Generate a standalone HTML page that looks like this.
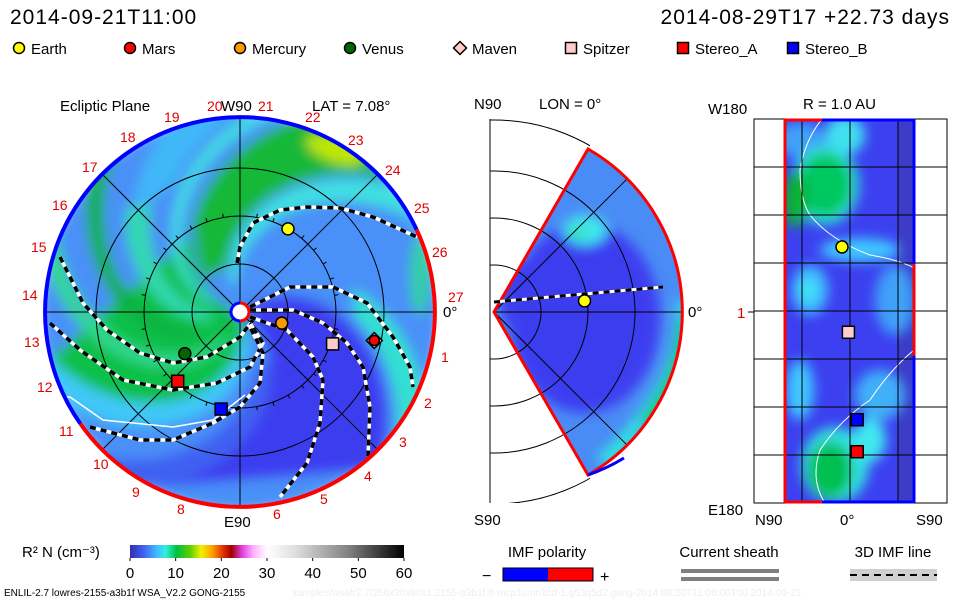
<!DOCTYPE html>
<html><head><meta charset="utf-8"><style>
html,body{margin:0;padding:0;background:#fff;}
svg{display:block;font-family:"Liberation Sans",sans-serif;}
</style></head><body>
<svg id="root" width="960" height="600" viewBox="0 0 960 600" xmlns="http://www.w3.org/2000/svg">
<defs>
<filter id="blur6" x="-20%" y="-20%" width="140%" height="140%"><feGaussianBlur stdDeviation="6"/></filter>
<clipPath id="diskClip"><circle cx="240" cy="312" r="195"/></clipPath>
<clipPath id="wedgeClip"><path d="M494,312 L588,149 A188,188 0 0 1 588,475 Z"/></clipPath>
<clipPath id="outsideWedge"><path d="M494,312 L725,-88 L490,-88 L490,312 Z M494,312 L725,712 L490,712 L490,312 Z"/></clipPath>
<clipPath id="midBox"><rect x="490" y="119" width="200" height="384"/></clipPath>
<clipPath id="rightClip"><rect x="785" y="119" width="129" height="384"/></clipPath>
<linearGradient id="cbar" x1="0" x2="1" y1="0" y2="0">
<stop offset="0" stop-color="#3030b0"/><stop offset="0.05" stop-color="#4060f0"/><stop offset="0.1" stop-color="#40c0ff"/><stop offset="0.13" stop-color="#30f0e0"/><stop offset="0.17" stop-color="#00c040"/><stop offset="0.22" stop-color="#60d000"/><stop offset="0.26" stop-color="#f0f000"/><stop offset="0.3" stop-color="#ffa000"/><stop offset="0.34" stop-color="#e03000"/><stop offset="0.37" stop-color="#a00000"/><stop offset="0.41" stop-color="#e040e0"/><stop offset="0.45" stop-color="#ffb0ff"/><stop offset="0.5" stop-color="#ffffff"/><stop offset="0.6" stop-color="#e0e0e0"/><stop offset="0.8" stop-color="#808080"/><stop offset="1" stop-color="#000"/>
</linearGradient>
</defs>

<text x="10" y="24" font-size="21" fill="#000" letter-spacing="1">2014-09-21T11:00</text>
<text x="950" y="24" font-size="21" fill="#000" text-anchor="end" letter-spacing="1">2014-08-29T17 +22.73 days</text>
<g id="legend"></g>

<g id="ecl">
<g clip-path="url(#diskClip)"><g id="eclBands" filter="url(#blur6)"></g></g>
<g id="eclGrid" fill="none" stroke="#000" stroke-width="1"></g>
<g id="eclLines"></g>
<g id="eclRing"></g>
<g id="eclBodies"></g>
<g id="eclLabels" font-size="14" fill="#e00000"></g>
<text x="60" y="111" font-size="15">Ecliptic Plane</text>
<text x="312" y="111" font-size="15">LAT = 7.08°</text>
<text x="221" y="111" font-size="15">W90</text>
<text x="224" y="527" font-size="15">E90</text>
<text x="443" y="317" font-size="15">0°</text>
</g>

<g id="mer">
<g clip-path="url(#midBox)"><g fill="none" stroke="#000" stroke-width="1" clip-path="url(#outsideWedge)" id="merGrid"></g></g>
<g clip-path="url(#wedgeClip)">
<rect x="490" y="119" width="200" height="384" fill="#4a8cf5"/>
<g filter="url(#blur6)">
<ellipse cx="585" cy="318" rx="75" ry="95" fill="#3c3ef0"/>
<ellipse cx="530" cy="300" rx="30" ry="40" fill="#3c3ef0"/>
<ellipse cx="585" cy="230" rx="22" ry="15" fill="#40e8f0"/>
<ellipse cx="578" cy="232" rx="9" ry="7" fill="#30e0b0"/>
<path d="M676,300 Q680,360 640,410 Q610,450 595,455 L610,470 Q660,430 690,300 Z" fill="#30e0e0"/>
<path d="M680,320 Q675,380 640,420 L660,430 Q690,380 690,320 Z" fill="#10c870"/>
<ellipse cx="640" cy="180" rx="30" ry="25" fill="#4a8cf5"/>
</g>
<g fill="none" stroke="#000" stroke-width="1" id="merGrid2"></g>
</g>
<line x1="490" y1="119" x2="490" y2="503" stroke="#000"/>
<path d="M494,312 L588,149 A188,188 0 0 1 588,475 Z" fill="none" stroke="#f00" stroke-width="3"/>
<path d="M588,475 A188,188 0 0 0 624,458" fill="none" stroke="#00f" stroke-width="3"/>
<g id="merLine"></g>
<g id="merBodies"></g>
<text x="474" y="109" font-size="15">N90</text>
<text x="539" y="109" font-size="15">LON = 0°</text>
<text x="474" y="525" font-size="15">S90</text>
<text x="688" y="317" font-size="15">0°</text>
</g>

<g id="rp">
<g clip-path="url(#rightClip)">
<rect x="785" y="119" width="129" height="384" fill="#3c40f0"/>
<rect x="898" y="119" width="16" height="384" fill="#3c3cc8"/>
<g filter="url(#blur6)">
<ellipse cx="800" cy="140" rx="25" ry="18" fill="#40a0f8"/>
<ellipse cx="845" cy="135" rx="20" ry="20" fill="#40e0f0"/>
<ellipse cx="825" cy="185" rx="34" ry="40" fill="#30e0e0"/>
<ellipse cx="825" cy="185" rx="27" ry="32" fill="#00c860"/>
<ellipse cx="795" cy="200" rx="12" ry="28" fill="#10b030"/>
<ellipse cx="860" cy="250" rx="40" ry="12" fill="#40c8ff"/>
<ellipse cx="810" cy="290" rx="18" ry="25" fill="#40c0ff"/>
<ellipse cx="808" cy="290" rx="8" ry="10" fill="#40e8f0"/>
<ellipse cx="895" cy="300" rx="20" ry="35" fill="#40a0f8"/>
<ellipse cx="800" cy="390" rx="14" ry="30" fill="#40c8ff"/>
<ellipse cx="880" cy="395" rx="25" ry="25" fill="#40b0f8"/>
<ellipse cx="835" cy="465" rx="34" ry="38" fill="#30e0e0"/>
<ellipse cx="830" cy="470" rx="22" ry="28" fill="#00c050"/>
<ellipse cx="870" cy="440" rx="16" ry="22" fill="#40e8f0"/>
</g>
<path d="M822,119 Q805,140 800,170 Q800,200 810,215 Q830,240 870,255 Q900,260 914,268" fill="none" stroke="#fff" stroke-width="1"/>
<path d="M914,350 Q890,370 870,400 Q840,420 820,450 Q810,480 825,503" fill="none" stroke="#fff" stroke-width="1"/>
</g>
<g id="rpGrid" stroke="#000" stroke-width="1"></g>
<rect x="754" y="119" width="193" height="384" fill="none" stroke="#000"/>
<g stroke-width="3" fill="none">
<line x1="785" y1="119" x2="785" y2="503" stroke="#f00"/>
<line x1="785" y1="120" x2="822" y2="120" stroke="#f00"/>
<line x1="822" y1="120" x2="914" y2="120" stroke="#00f"/>
<line x1="785" y1="502" x2="822" y2="502" stroke="#f00"/>
<line x1="822" y1="502" x2="914" y2="502" stroke="#00f"/>
<line x1="914" y1="119" x2="914" y2="264" stroke="#00f"/>
<line x1="914" y1="264" x2="914" y2="356" stroke="#f00"/>
<line x1="914" y1="356" x2="914" y2="503" stroke="#00f"/>
</g>
<g id="rpBodies"></g>
<text x="708" y="114" font-size="15">W180</text>
<text x="803" y="109" font-size="15">R = 1.0 AU</text>
<text x="737" y="318" font-size="15" fill="#e00000">1</text>
<text x="708" y="515" font-size="15">E180</text>
<text x="755" y="525" font-size="15">N90</text>
<text x="840" y="525" font-size="15">0°</text>
<text x="916" y="525" font-size="15">S90</text>
</g>

<g>
<text x="22" y="557" font-size="15">R² N (cm⁻³)</text>
<rect x="130" y="545" width="274" height="13" fill="url(#cbar)"/>
<g id="cbTicks" font-size="15" text-anchor="middle"></g>
</g>
<g>
<text x="547" y="557" font-size="15" text-anchor="middle">IMF polarity</text>
<text x="482" y="581" font-size="16">−</text>
<rect x="503" y="568" width="45" height="13" fill="#00f"/>
<rect x="548" y="568" width="45" height="13" fill="#f00"/>
<rect x="503" y="568" width="90" height="13" fill="none" stroke="#000"/>
<text x="600" y="582" font-size="16">+</text>
</g>
<g>
<text x="729" y="557" font-size="15" text-anchor="middle">Current sheath</text>
<rect x="681" y="569" width="98" height="4" fill="#808080"/>
<rect x="681" y="577" width="98" height="4" fill="#808080"/>
</g>
<g>
<text x="893" y="557" font-size="15" text-anchor="middle">3D IMF line</text>
<rect x="850" y="569" width="87" height="12" fill="#d0d0d0"/>
<line x1="850" y1="575" x2="937" y2="575" stroke="#000" stroke-width="2" stroke-dasharray="7,5"/>
</g>
<text x="4" y="596" font-size="10">ENLIL-2.7 lowres-2155-a3b1f WSA_V2.2 GONG-2155</text>
<text x="292" y="596" font-size="10" fill="#eeeeee">xamples/wsafr2.7/256x30x90x1.2155-a3b1f.8-mcp1umn1cd-1.g53q5d2.gong-2014:08:20T11:06:00T00   2014-09-21</text>
</svg>
<script>
// ---- data ----
const bodyNames = ["Earth","Mercury","Venus","Mars","Maven","Spitzer","Stereo_A","Stereo_B"];
const bodyRadiusAU = [1.0,0.45,0.72,1.43,1.43,1.02,0.97,1.03];
const bodyLonDeg = [60,-15,217,-12,-12,-19,228,259];
const bodyColors = ["#ffff00","#ff9900","#006600","#ff0000","#ffcccc","#ffcccc","#ff0000","#0000ff"];
const bodyShapes = ["circle","circle","circle","circle","diamond","square","square","square"];
const legendNames = ["Earth","Mars","Mercury","Venus","Maven","Spitzer","Stereo_A","Stereo_B"];
const legendColors = ["#ffff00","#ff0000","#ff9900","#006600","#ffcccc","#ffcccc","#ff0000","#0000ff"];
const legendShapes = ["circle","circle","circle","circle","diamond","square","square","square"];
const cbTickLabels = ["0","10","20","30","40","50","60"];
const cbTickValues = [0,10,20,30,40,50,60];
const rpBodyNames = ["Earth","Spitzer","Stereo_B","Stereo_A"];
const rpLat = [5,1,-4.5,-4.5];
const rpLon = [61,-19,-101,-131];
const merEarthR = [0.95];
const merEarthLat = [7];

const NS="http://www.w3.org/2000/svg";
function mk(tag, attrs, parent){const e=document.createElementNS(NS,tag);for(const k in attrs)e.setAttribute(k,attrs[k]);parent.appendChild(e);return e;}
const CX=240,CY=312,S=96;
function px(r,deg){const a=deg*Math.PI/180;return [CX+r*S*Math.cos(a),CY-r*S*Math.sin(a)];}

function marker(shape,x,y,color,parent,size){
  size=size||6;let e;
  if(shape==="circle") e=mk("circle",{cx:x,cy:y,r:size,fill:color,stroke:"#000","stroke-width":1.5},parent);
  else if(shape==="square") e=mk("rect",{x:x-size,y:y-size,width:2*size,height:2*size,fill:color,stroke:"#000","stroke-width":1.5},parent);
  else e=mk("polygon",{points:`${x},${y-size-1} ${x+size+1},${y} ${x},${y+size+1} ${x-size-1},${y}`,fill:color,stroke:"#000","stroke-width":1.5},parent);
  return e;
}

const lg=document.getElementById("legend");
const legendX=[19,130,240,350,460,571,683,793];
legendNames.forEach((n,i)=>{
  const g=mk("g",{},lg);
  
  
  marker(legendShapes[i],legendX[i],48,legendColors[i],g,5.5);
  const t=mk("text",{x:legendX[i]+12,y:54,"font-size":15},g);t.textContent=n;
});

const bands=document.getElementById("eclBands");
mk("circle",{cx:CX,cy:CY,r:200,fill:"#4a90f8"},bands);
function band(p1a,p1b,k,r0,r1,color){
  const pts=[];
  for(let r=r0;r<=r1+1e-6;r+=0.05){pts.push(px(r,p1a+k*(1-r)));}
  for(let r=r1;r>=r0-1e-6;r-=0.05){pts.push(px(r,p1b+k*(1-r)));}
  mk("polygon",{points:pts.map(p=>p.join(",")).join(" "),fill:color},bands);
}
band(120,250,45,0.1,2.2,"#10c048");
band(150,165,45,0.3,1.6,"#30d8b0");
band(128,135,45,0.3,2.2,"#40e0e0");
band(178,188,45,0.5,2.2,"#08b040");
band(205,215,45,0.3,2.2,"#30d890");
band(140,160,45,1.5,2.2,"#40b8f8");
band(240,255,45,0.2,2.2,"#40c8f8");
band(85,117,40,0.5,2.2,"#18b838");
band(70,82,40,0.3,2.2,"#40e0e0");
band(-75,0,40,0.1,2.2,"#3c3ef0");
band(5,20,40,1.2,2.2,"#30e0d0");
band(-90,-75,40,0.6,2.2,"#3f60f2");
mk("ellipse",{cx:335,cy:150,rx:30,ry:12,fill:"#c0e800",transform:"rotate(20 335 150)"},bands);
mk("ellipse",{cx:420,cy:275,rx:10,ry:40,fill:"#30d0a0"},bands);

const eg=document.getElementById("eclGrid");
[0.5,1,1.5].forEach(r=>mk("circle",{cx:CX,cy:CY,r:r*S},eg));
[0,45,90,135].forEach(a=>{const p=px(2.03,a),q=px(2.03,a+180);mk("line",{x1:p[0],y1:p[1],x2:q[0],y2:q[1]},eg);});
for(let a=0;a<360;a+=10){const p=px(1,a),q=px(1.04,a);mk("line",{x1:p[0],y1:p[1],x2:q[0],y2:q[1]},eg);}

const el=document.getElementById("eclLines");
const imfLines=[
"237,263 240,247 253,223 280,210 307,207 340,208 373,217 417,237",
"60,257 83,303 107,330 140,353 173,363 207,357 240,337 253,320",
"50,323 80,350 123,380 173,390 217,383 250,367 263,343 250,323",
"90,427 140,440 173,440 213,423 240,407 260,383 263,353 250,327",
"250,310 293,310 323,323 347,343 363,367 370,407 368,457",
"250,307 290,287 333,287 367,303 393,337 410,367 413,387",
"250,317 287,330 313,357 323,380 320,423 307,463 280,497"];
mk("polyline",{points:"50,397 70,397 103,420 173,427 213,420 245,395",fill:"none",stroke:"#fff","stroke-width":1.5},el);
imfLines.forEach((p,i)=>{
  mk("polyline",{points:p,fill:"none",stroke:"#fff","stroke-width":3.5,"stroke-linejoin":"round"},el);
  const d=mk("polyline",{points:p,fill:"none",stroke:"#000","stroke-width":3.5,"stroke-dasharray":"6,5"},el);
  
  
});

const er=document.getElementById("eclRing");
function arc(a0,a1,color){const p=px(2.03,a0),q=px(2.03,a1);const large=(a1-a0)>180?1:0;
  mk("path",{d:`M${p[0]},${p[1]} A${2.03*S},${2.03*S} 0 ${large} 0 ${q[0]},${q[1]}`,fill:"none",stroke:color,"stroke-width":4},er);}
arc(25,215,"#0000ff");
arc(215,385,"#ff0000");
mk("circle",{cx:CX,cy:CY,r:8,fill:"#fff"},er);
mk("path",{d:`M${CX},${CY-9} A9,9 0 0 0 ${CX},${CY+9}`,fill:"none",stroke:"#00f","stroke-width":3},er);
mk("path",{d:`M${CX},${CY-9} A9,9 0 0 1 ${CX},${CY+9}`,fill:"none",stroke:"#f00","stroke-width":3},er);

const eb=document.getElementById("eclBodies");
bodyNames.forEach((n,i)=>{
  if(n==="Mars") return;
  const p=px(bodyRadiusAU[i],bodyLonDeg[i]);
  const sz=bodyShapes[i]==="diamond"?7:6;
  const m=marker(bodyShapes[i],p[0],p[1],bodyColors[i],eb,sz);
  
  
  if(n==="Maven"){const q=px(bodyRadiusAU[3],bodyLonDeg[3]);const mm=marker("circle",q[0],q[1],bodyColors[3],eb,5);
    
    }
});

const lab=document.getElementById("eclLabels");
const lonLabels=["27","1","2","3","4","5","6","8","9","10","11","12","13","14","15","16","17","18","19","20","21","22","23","24","25","26"];
const lonLabelX=[448,441,424,399,364,320,273,177,132,93,59,37,24,22,31,52,82,120,164,207,258,305,348,385,414,432];
const lonLabelY=[302,362,408,447,481,504,519,514,497,469,436,392,347,300,252,210,172,142,122,111,111,122,145,175,213,257];
lonLabels.forEach((s,i)=>{const t=mk("text",{x:lonLabelX[i],y:lonLabelY[i]},lab);t.textContent=s;});

const OX=494,OY=312;
const merRadii=[47,94,141,192];
const mg=document.getElementById("merGrid");
merRadii.forEach(r=>mk("circle",{cx:OX,cy:OY,r:r},mg));
const mg2=document.getElementById("merGrid2");
merRadii.forEach(r=>mk("circle",{cx:OX,cy:OY,r:r},mg2));
mk("line",{x1:OX,y1:OY,x2:684,y2:OY},mg2);
[45,-45].forEach(a=>{const rad=a*Math.PI/180;mk("line",{x1:OX,y1:OY,x2:OX+188*Math.cos(rad),y2:OY-188*Math.sin(rad)},mg2);});
const ml=document.getElementById("merLine");
mk("line",{x1:OX,y1:OY-10,x2:663,y2:287,stroke:"#fff","stroke-width":3},ml);
mk("line",{x1:OX,y1:OY-10,x2:663,y2:287,stroke:"#000","stroke-width":3,"stroke-dasharray":"6,5"},ml);
const mb=document.getElementById("merBodies");
merEarthR.forEach((r,i)=>{const a=merEarthLat[i]*Math.PI/180;const x=OX+r*96*Math.cos(a),y=OY-r*96*Math.sin(a);
  const m=marker("circle",x,y,"#ffff00",mb,6);
  
  });

const rg=document.getElementById("rpGrid");
for(let i=1;i<8;i++){mk("line",{x1:754,y1:119+i*48,x2:947,y2:119+i*48},rg);}
[802,850,898].forEach(x=>mk("line",{x1:x,y1:119,x2:x,y2:503},rg));
mk("line",{x1:748,y1:312,x2:754,y2:312},rg);
const rb=document.getElementById("rpBodies");
const rpShapes=["circle","square","square","square"];
const rpColors=["#ffff00","#ffcccc","#0000ff","#ff0000"];
function rpX(lat){return 850-lat*1.6;}
function rpY(lon){return 312-lon*(192/180);}
rpBodyNames.forEach((n,i)=>{
  const m=marker(rpShapes[i],rpX(rpLat[i]),rpY(rpLon[i]),rpColors[i],rb,6);
  
  
});

const cb=document.getElementById("cbTicks");
cbTickValues.forEach((v,i)=>{const x=130+v/60*274;mk("line",{x1:x,y1:558,x2:x,y2:561,stroke:"#000"},cb);
  const t=mk("text",{x:x,y:578},cb);t.textContent=cbTickLabels[i];});
</script>
</body></html>
